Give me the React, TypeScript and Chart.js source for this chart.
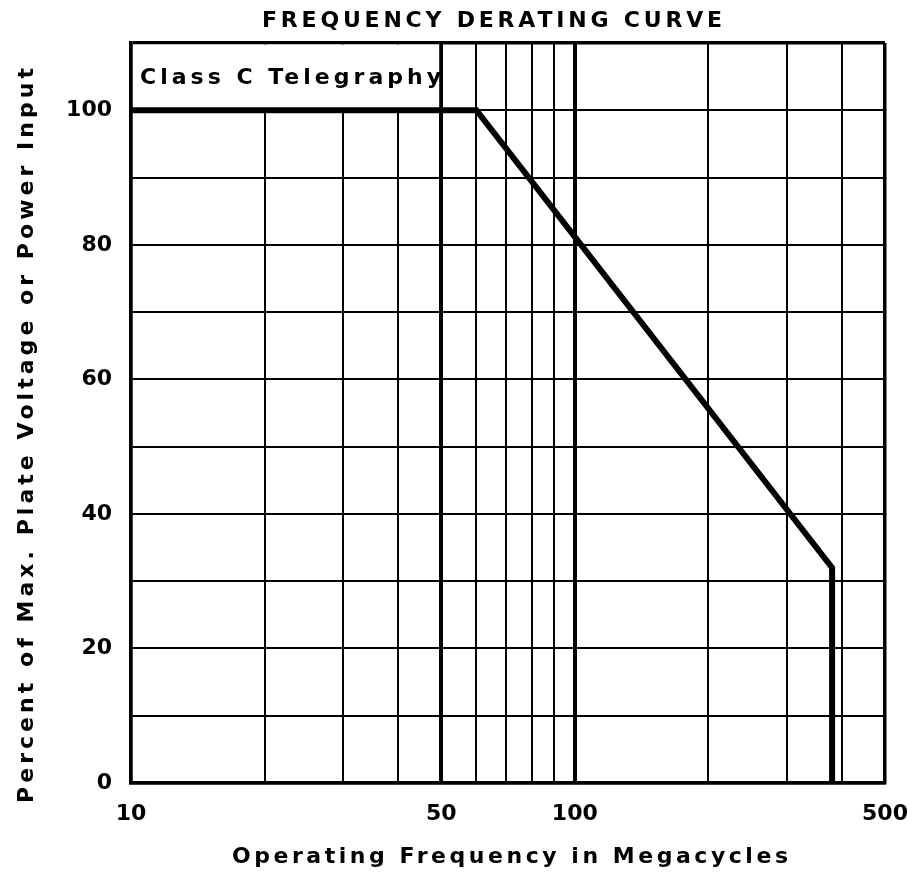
import React, { useEffect, useRef } from 'react';
import { Chart, registerables } from 'chart.js';

Chart.register(...registerables);

// ---- data ----
const frequencies = [10, 60, 380, 380];
const percents = [100, 100, 32, 0];
const xGridValues = [10, 20, 30, 40, 50, 60, 70, 80, 90, 100, 200, 300, 400, 500];
const xTickLabels = [10, 50, 100, 500];
const yTickLabels = [0, 20, 40, 60, 80, 100];
const heavyFreqLines = [50, 100];
const noteFreqRange = [10, 50];
const notePercentRange = [100, 110];

const titleText = 'FREQUENCY DERATING CURVE';
const xTitleText = 'Operating Frequency in Megacycles';
const yTitleText = 'Percent of Max. Plate Voltage or Power Input';
const noteText = 'Class C Telegraphy';

const FAMILY = '"DejaVu Sans", sans-serif';
const INK = '#000';

function spacedText(ctx: CanvasRenderingContext2D, text: string, x: number, y: number, width: number, size: number) {
  ctx.font = `bold ${size}px ${FAMILY}`;
  (ctx as any).letterSpacing = '0px';
  const w0 = ctx.measureText(text).width;
  const sp = (width - w0) / (text.length - 1);
  (ctx as any).letterSpacing = `${sp}px`;
  ctx.textAlign = 'left';
  ctx.textBaseline = 'alphabetic';
  ctx.fillStyle = INK;
  ctx.fillText(text, x, y);
  (ctx as any).letterSpacing = '0px';
}

const noteBoxPlugin = {
  id: 'noteBox',
  beforeDatasetsDraw(chart: any) {
    const { ctx, scales } = chart;
    const xs = scales.x, ys = scales.y;
    const l = xs.getPixelForValue(noteFreqRange[0]) + 2;
    const r = xs.getPixelForValue(noteFreqRange[1]) - 2;
    const t = ys.getPixelForValue(notePercentRange[1]) + 1.5;
    const b = ys.getPixelForValue(notePercentRange[0]) - 1;
    ctx.save();
    ctx.fillStyle = '#fff';
    ctx.fillRect(l, t, r - l, b - t);
    ctx.restore();
  },
};

const textPlugin = {
  id: 'texts',
  afterDraw(chart: any) {
    const { ctx, chartArea } = chart;
    ctx.save();
    spacedText(ctx, titleText, 262, 27, 460, 22);
    spacedText(ctx, noteText, chartArea.left + 9, 84, 301, 22);
    spacedText(ctx, xTitleText, 232, 863, 556, 22);
    ctx.translate(33, 803);
    ctx.rotate(-Math.PI / 2);
    spacedText(ctx, yTitleText, 0, 0, 735, 22);
    ctx.restore();
  },
};

export default function App() {
  const ref = useRef<HTMLCanvasElement | null>(null);

  useEffect(() => {
    if (!ref.current) return;
    const chart = new Chart(ref.current, {
      type: 'line',
      data: {
        datasets: [
          {
            data: frequencies.map((f, i) => ({ x: f, y: percents[i] })),
            borderColor: INK,
            borderWidth: 6,
            pointRadius: 0,
            fill: false,
            tension: 0,
            borderJoinStyle: 'miter',
          },
        ],
      },
      options: {
        responsive: false,
        maintainAspectRatio: false,
        animation: false,
        layout: { padding: { top: 43, right: 29, left: 0, bottom: 0 } },
        plugins: {
          legend: { display: false },
          tooltip: { enabled: false },
          title: { display: false },
        },
        scales: {
          x: {
            type: 'logarithmic',
            min: 10,
            max: 500,
            afterBuildTicks: (s: any) => {
              s.ticks = xGridValues.map((v) => ({ value: v }));
            },
            afterFit: (s: any) => {
              s.height = 91;
              s.paddingLeft = 0;
              s.paddingRight = 0;
            },
            grid: {
              color: INK,
              drawTicks: false,
              lineWidth: (c: any) => {
                const v = Math.round(c.tick ? c.tick.value : 0);
                if (heavyFreqLines.includes(v)) return 4;
                if (v === 500 || v === 10) return 3.5;
                return 2;
              },
            },
            border: { display: true, color: INK, width: 3.5 },
            ticks: {
              color: INK,
              autoSkip: false,
              maxRotation: 0,
              padding: 18,
              font: { family: FAMILY, size: 22, weight: 'bold' },
              callback: (v: any) => (xTickLabels.includes(Math.round(Number(v))) ? String(Math.round(Number(v))) : ''),
            },
          },
          y: {
            type: 'linear',
            min: 0,
            max: 110,
            afterFit: (s: any) => {
              s.width = 131;
              s.paddingTop = 0;
              s.paddingBottom = 0;
            },
            grid: {
              color: INK,
              drawTicks: false,
              lineWidth: (c: any) => {
                const v = Math.round(c.tick ? c.tick.value : 0);
                if (v === 110 || v === 0) return 3.5;
                return 2;
              },
            },
            border: { display: true, color: INK, width: 3.5 },
            ticks: {
              color: INK,
              stepSize: 10,
              autoSkip: false,
              padding: 19,
              font: { family: FAMILY, size: 22, weight: 'bold' },
              callback: (v: any) => (yTickLabels.includes(Math.round(Number(v))) ? String(Math.round(Number(v))) : ''),
            },
          },
        },
      },
      plugins: [noteBoxPlugin, textPlugin],
    } as any);
    return () => chart.destroy();
  }, []);

  return (
    <canvas
      ref={ref}
      width={914}
      height={874}
      style={{ position: 'absolute', left: 0, top: 0, width: 914, height: 874, display: 'block' }}
    />
  );
}
